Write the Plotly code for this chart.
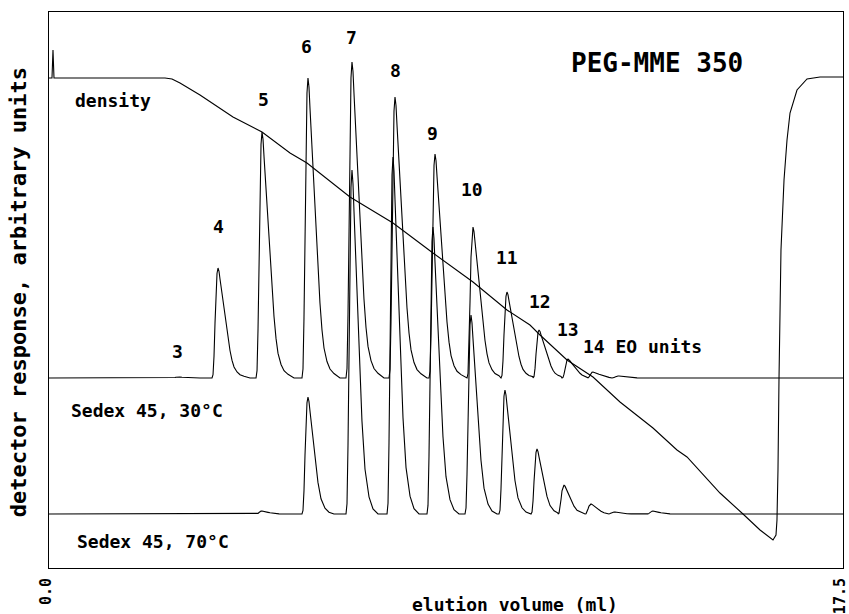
import plotly.graph_objects as go

# Axes: elution volume in ml, detector response in arbitrary units
X_RANGE = [0.0, 17.5]
Y_RANGE = [0, 556]

# Density gradient trace
density_ml = [0.0, 0.066, 0.088, 0.110, 2.557, 2.711, 2.887, 3.328, 4.055, 4.695,
              5.312, 5.686, 6.634, 7.582, 8.463, 9.345, 10.094, 10.601, 10.822,
              11.417, 11.990, 12.585, 13.312, 13.841, 14.062, 14.789, 15.296,
              15.671, 15.957, 16.023, 16.045, 16.067, 16.089, 16.133, 16.200,
              16.266, 16.332, 16.486, 16.707, 16.993, 17.5]
density_resp = [490, 490, 518, 490, 490, 489, 485, 473, 451, 436,
                415, 405, 371, 345, 315, 286, 258, 243, 233,
                208, 191, 166, 140, 118, 111, 75, 54,
                38, 28, 33, 48, 98, 188, 318, 388,
                428, 455, 478, 489, 491, 491]

# Sedex 45 ELSD traces: baseline level, apex volume and apex height per oligomer
BASE_30 = 190
BASE_70 = 54

apex_ml_30 = [2.843, 3.725, 4.695, 5.708, 6.678, 7.626, 8.508, 9.345, 10.094,
              10.800, 11.439, 11.990, 12.541]
height_30 = [1, 110, 246, 300, 316, 281, 224, 151, 86, 48, 19, 6, 2]

apex_ml_70 = [4.695, 5.708, 6.678, 7.582, 8.463, 9.301, 10.050, 10.756, 11.351,
              11.946, 12.453, 13.312]
height_70 = [3, 117, 344, 357, 287, 199, 124, 65, 29, 10, 2, 3]

# Tailing peak profile: offset from apex (ml) and fraction of apex height
profile_off_30 = [-0.132, -0.110, -0.088, -0.066, -0.044, -0.022, 0.0, 0.022,
                  0.044, 0.088, 0.132, 0.176, 0.220, 0.264, 0.309, 0.353,
                  0.419, 0.485, 0.573, 0.705]
profile_frac_30 = [0, 0.03, 0.2, 0.5, 0.8, 0.95, 1.0, 0.97, 0.9, 0.76, 0.62,
                   0.49, 0.36, 0.25, 0.16, 0.1, 0.055, 0.03, 0.015, 0]

profile_off_70 = [-0.132, -0.110, -0.088, -0.066, -0.044, -0.022, 0.0, 0.022,
                  0.044, 0.088, 0.132, 0.176, 0.220, 0.287, 0.375, 0.463, 0.573]
profile_frac_70 = [0, 0.03, 0.2, 0.5, 0.8, 0.95, 1.0, 0.96, 0.88, 0.72, 0.55,
                   0.4, 0.27, 0.13, 0.05, 0.015, 0]

# Peak labels (EO units)
peak_labels = ["3", "4", "5", "6", "7", "8", "9", "10", "11", "12", "13",
               "14 EO units"]
label_ml = [2.843, 3.725, 4.717, 5.686, 6.678, 7.626, 8.463, 9.323, 10.094,
            10.822, 11.439, 13.081]
label_resp = [217, 342, 469, 522, 531, 498, 435, 379, 311, 267, 239, 222]

# Other text labels
text_labels = ["density", "PEG-MME 350", "Sedex 45, 30°C", "Sedex 45, 70°C"]
text_ml = [1.411, 13.40, 2.16, 2.29]
text_resp = [468, 505, 158, 27]
text_size = [18, 26, 18, 18]

# Axis end labels
tick_ml = [0.0, 17.5]
tick_text = ["0.0", "17.5"]


def chromatogram(apex, heights, base, offs, fracs):
    xs, ys = [X_RANGE[0]], [base]
    for i, (a, h) in enumerate(zip(apex, heights)):
        limit = apex[i + 1] + offs[0] if i + 1 < len(apex) else X_RANGE[1]
        for o, fr in zip(offs, fracs):
            x = a + o
            if x >= limit:
                break
            xs.append(x)
            ys.append(base + h * fr)
    xs.append(X_RANGE[1])
    ys.append(base)
    return xs, ys


x30, y30 = chromatogram(apex_ml_30, height_30, BASE_30, profile_off_30, profile_frac_30)
x70, y70 = chromatogram(apex_ml_70, height_70, BASE_70, profile_off_70, profile_frac_70)

FONT = "DejaVu Sans Mono"
LINE = dict(color="black", width=1.1)


def tfont(size):
    return dict(family=FONT, size=size, color="black", weight="bold")


fig = go.Figure()
fig.add_trace(go.Scatter(x=x30, y=y30, mode="lines", line=LINE, name="Sedex 45, 30°C"))
fig.add_trace(go.Scatter(x=x70, y=y70, mode="lines", line=LINE, name="Sedex 45, 70°C"))
fig.add_trace(go.Scatter(x=density_ml, y=density_resp, mode="lines", line=LINE,
                         name="density"))

annotations = []
for t, x, y in zip(peak_labels, label_ml, label_resp):
    annotations.append(dict(x=x, y=y, xref="x", yref="y", text=t, showarrow=False,
                            xanchor="center", yanchor="middle", font=tfont(18)))
for t, x, y, s in zip(text_labels, text_ml, text_resp, text_size):
    annotations.append(dict(x=x, y=y, xref="x", yref="y", text=t, showarrow=False,
                            xanchor="center", yanchor="middle", font=tfont(s)))

# Axis titles
annotations.append(dict(x=0.587, y=-0.0665, xref="paper", yref="paper",
                        text="elution volume (ml)", showarrow=False,
                        xanchor="center", yanchor="middle", font=tfont(18)))
annotations.append(dict(x=-0.039, y=0.496, xref="paper", yref="paper",
                        text="detector response, arbitrary units", textangle=-90,
                        showarrow=False, xanchor="center", yanchor="middle",
                        font=tfont(22)))

fig.update_layout(
    width=849, height=614,
    margin=dict(l=49, r=6, t=12, b=46),
    paper_bgcolor="white", plot_bgcolor="white",
    showlegend=False,
    annotations=annotations,
)
fig.update_xaxes(range=X_RANGE, showgrid=False, zeroline=False, automargin=False,
                 showline=True, mirror=True, linecolor="black", linewidth=1,
                 tickvals=tick_ml, ticktext=tick_text, tickangle=-90,
                 ticks="", ticklabelstandoff=3, ticklabelshift=-3,
                 ticklabeloverflow="allow", tickfont=tfont(15))
fig.update_yaxes(range=Y_RANGE, showgrid=False, zeroline=False, automargin=False,
                 showline=True, mirror=True, linecolor="black", linewidth=1,
                 showticklabels=False, ticks="")

fig.write_html("out.html")
